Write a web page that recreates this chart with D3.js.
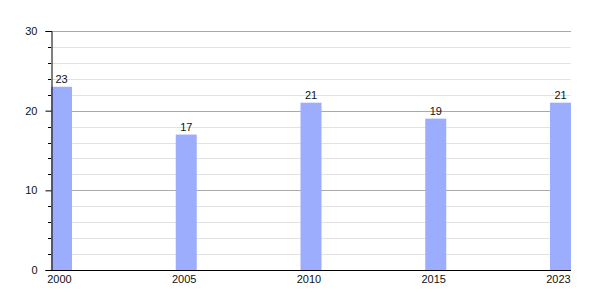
<!DOCTYPE html>
<html><head><meta charset="utf-8">
<script src="https://cdn.jsdelivr.net/npm/d3@7"></script>
<style>body{margin:0;background:#fff}svg{display:block}svg text{font-family:"Liberation Sans",Arial,sans-serif;font-size:11px;fill:#111 !important}</style>
</head><body>
<svg id="c" width="600" height="300"></svg>
<script>
const categories = ["2000","2005","2010","2015","2023"];
const values = [23,17,21,19,21];
const majorTicks = [0,10,20,30];
const minorTicks = [2,4,6,8,12,14,16,18,22,24,26,28];

(function(){
const svg = d3.select("#c");
const mLeft = 51, mRight = 571, mTop = 31, mBottom = 270, barW = 21;
const x = d3.scalePoint().domain(categories).range([mLeft, mRight - barW]);
const y = d3.scaleLinear().domain([0,30]).range([mBottom, mTop]);

// grid
svg.append("g").selectAll("line").data(minorTicks).join("line")
  .attr("x1", mLeft).attr("x2", mRight).attr("y1", d=>Math.round(y(d))+0.5).attr("y2", d=>Math.round(y(d))+0.5)
  .attr("stroke", "#e2e2e2");
svg.append("g").selectAll("line").data(majorTicks.filter(d=>d>0)).join("line")
  .attr("x1", mLeft).attr("x2", mRight).attr("y1", d=>Math.round(y(d))+0.5).attr("y2", d=>Math.round(y(d))+0.5)
  .attr("stroke", "#aaaaaa");

// bars
svg.append("g").selectAll("rect").data(values).join("rect")
  .attr("x", (d,i)=>x(categories[i])).attr("width", barW)
  .attr("y", d=>y(d)).attr("height", d=>mBottom - y(d))
  .attr("fill", "#9badfc");

svg.append("g").selectAll("text").data(values).join("text")
  .attr("x", (d,i)=>x(categories[i]) + barW/2).attr("y", d=>y(d) - 4)
  .attr("text-anchor", "middle").text(d=>d);

// y axis
const ya = svg.append("g").attr("transform", `translate(${mLeft+0.5},0)`)
  .call(d3.axisLeft(y).tickValues(majorTicks).tickSize(6).tickPadding(8).tickFormat(d3.format("d")));
ya.attr("font-family", null).attr("font-size", null);
ya.select(".domain").attr("stroke","#000");
ya.selectAll(".tick line").attr("stroke","#000");
svg.append("g").selectAll("line").data(minorTicks).join("line")
  .attr("x1", mLeft-3).attr("x2", mLeft).attr("y1", d=>Math.round(y(d))+0.5).attr("y2", d=>Math.round(y(d))+0.5)
  .attr("stroke", "#000");

// x axis
svg.append("line").attr("x1", mLeft).attr("x2", mRight).attr("y1", mBottom+0.5).attr("y2", mBottom+0.5).attr("stroke","#000");
svg.append("g").selectAll("text").data(categories).join("text")
  .attr("x", d=>x(d) + barW/2 - 2).attr("y", mBottom + 13)
  .attr("text-anchor","middle").text(d=>d);
})();
</script>
</body></html>
